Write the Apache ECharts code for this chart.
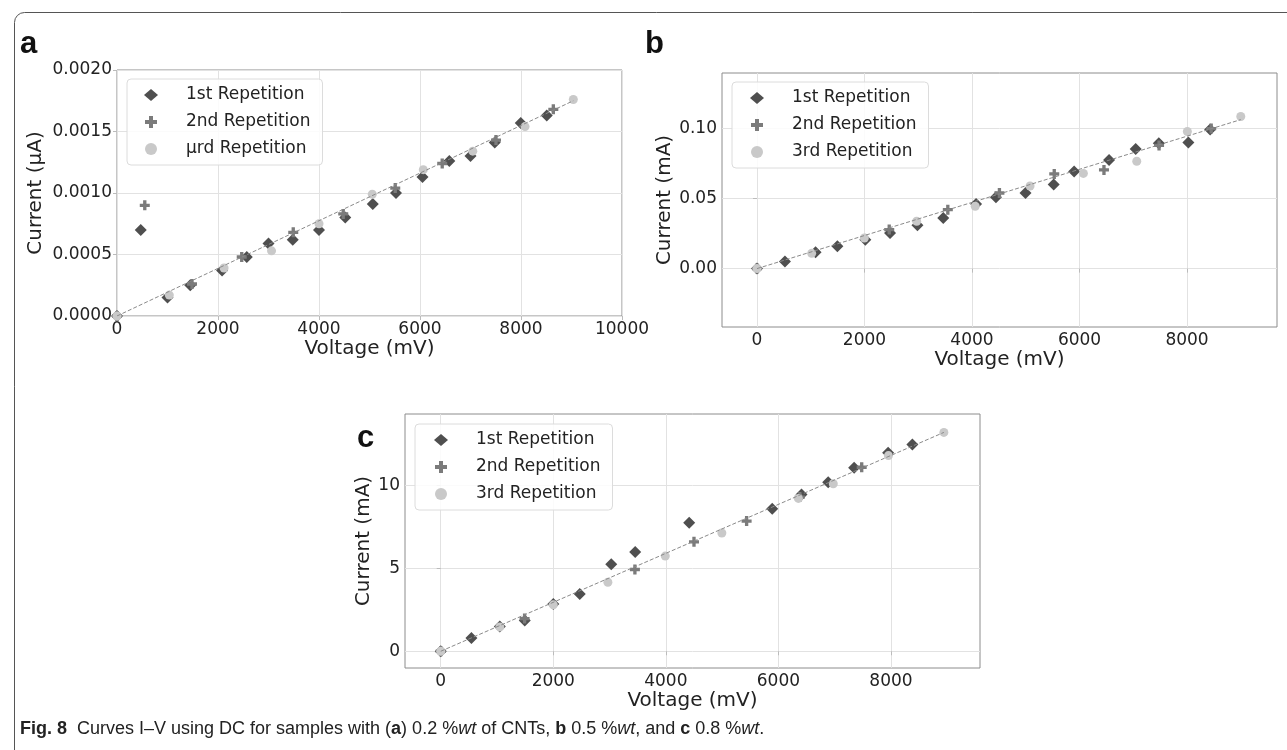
<!DOCTYPE html>
<html>
<head>
<meta charset="utf-8">
<script src="https://cdn.jsdelivr.net/npm/echarts@6/dist/echarts.min.js"></script>
<style>
  html, body { margin: 0; padding: 0; background: #fff; }
  #main { width: 1287px; height: 750px; }
</style>
</head>
<body>
<div id="main"></div>
<script>
// panel a: 0.2 %wt
const a1 = [[0,0],[470,0.0007],[1000,0.00015],[1450,0.00025],[2080,0.00037],[2570,0.00048],[3000,0.00059],[3480,0.00062],[4000,0.0007],[4520,0.0008],[5065,0.00091],[5525,0.001],[6050,0.00113],[6580,0.00126],[7000,0.0013],[7480,0.00141],[7995,0.00157],[8510,0.00163]];
const a2 = [[0,0],[550,0.0009],[1485,0.00026],[2470,0.00048],[3490,0.00068],[4480,0.00083],[5510,0.00104],[6440,0.00124],[7505,0.00143],[8640,0.00168]];
const a3 = [[0,0],[1036,0.00017],[2120,0.00039],[3060,0.00053],[4000,0.00075],[5055,0.00099],[6065,0.00119],[7045,0.00134],[8080,0.00154],[9036,0.00176]];
const fitA = [[0,0],[9036,0.00175]];

// panel b: 0.5 %wt
const b1 = [[0,0],[520,0.005],[1090,0.0117],[1495,0.016],[2015,0.0207],[2475,0.0255],[2985,0.031],[3465,0.0362],[4075,0.0462],[4445,0.0509],[4995,0.054],[5520,0.06],[5900,0.0693],[6550,0.0776],[7045,0.0855],[7475,0.0895],[8025,0.09],[8430,0.0993]];
const b2 = [[0,0],[2460,0.0279],[3550,0.0421],[4510,0.054],[5530,0.0676],[6455,0.0705],[7480,0.088],[8450,0.1]];
const b3 = [[0,0],[1017,0.0109],[1997,0.0219],[2971,0.0338],[4060,0.0445],[5080,0.059],[6072,0.068],[7065,0.0767],[8006,0.0979],[9000,0.1086]];
const fitB = [[0,0],[9000,0.1064]];

// panel c: 0.8 %wt
const c1 = [[0,0],[545,0.8],[1050,1.5],[1493,1.85],[2000,2.85],[2470,3.45],[3030,5.25],[3455,5.98],[4415,7.75],[5890,8.6],[6410,9.45],[6885,10.2],[7345,11.07],[7950,11.97],[8380,12.47]];
const c2 = [[0,0],[1490,1.97],[3450,4.93],[4500,6.6],[5435,7.85],[6380,9.3],[7480,11.1]];
const c3 = [[0,0],[1050,1.47],[2000,2.8],[2970,4.16],[3990,5.74],[4995,7.13],[6355,9.22],[6975,10.1],[7955,11.8],[8940,13.2]];
const fitC = [[0,0],[8940,13.2]];

const namesA = ['1st Repetition', '2nd Repetition', 'μrd Repetition'];
const namesBC = ['1st Repetition', '2nd Repetition', '3rd Repetition'];
const xTicks = [0, 2000, 4000, 6000, 8000];
const yTicksB = [0, 0.05, 0.10];
const yTicksC = [0, 5, 10];

const FONT = 'DejaVu Sans, Liberation Sans, sans-serif';
const CAP_FONT = 'Liberation Sans, Arial, sans-serif';
const PLUS = 'path://M1,0H2V1H3V2H2V3H1V2H0V1H1Z';
const C1 = '#4f4f4f', C2 = '#7b7b7b', C3 = '#c9c9c9';

const myChart = echarts.init(document.getElementById('main'));

function xAxis(idx, min, max, ticks) {
    const ax = {
        type: 'value', gridIndex: idx, min: min, max: max,
        name: 'Voltage (mV)', nameLocation: 'middle', nameGap: 20,
        nameTextStyle: { fontFamily: FONT, fontSize: 20, color: '#222' },
        axisLine: { show: false },
        axisTick: { show: true, length: 4, lineStyle: { color: '#bbb' } },
        axisLabel: { fontFamily: FONT, fontSize: 17, color: '#222', margin: 5,
            formatter: v => String(v) },
        splitLine: { show: true, lineStyle: { color: '#e2e2e2', width: 1 } }
    };
    if (ticks) {
        ax.axisTick.customValues = ticks;
        ax.axisLabel.customValues = ticks;
    } else {
        ax.interval = 2000;
    }
    return ax;
}

function yAxis(idx, min, max, ticks, name, gap, digits) {
    const ax = {
        type: 'value', gridIndex: idx, min: min, max: max,
        name: name, nameLocation: 'middle', nameGap: gap,
        nameTextStyle: { fontFamily: FONT, fontSize: 20, color: '#222' },
        axisLine: { show: false },
        axisTick: { show: true, length: 4, lineStyle: { color: '#bbb' } },
        axisLabel: { fontFamily: FONT, fontSize: 17, color: '#222', margin: 5,
            formatter: v => v.toFixed(digits) },
        splitLine: { show: true, lineStyle: { color: '#e2e2e2', width: 1 } }
    };
    if (ticks) {
        ax.axisTick.customValues = ticks;
        ax.axisLabel.customValues = ticks;
    } else {
        ax.interval = 0.0005;
    }
    return ax;
}

function scatter(name, idx, data, color, symbol, size, z) {
    return {
        type: 'scatter', name: name, xAxisIndex: idx, yAxisIndex: idx,
        data: data, symbol: symbol, symbolSize: size, z: z,
        itemStyle: { color: color, opacity: 1 },
        emphasis: { disabled: true }
    };
}

function fit(idx, data) {
    return {
        type: 'line', xAxisIndex: idx, yAxisIndex: idx, data: data,
        showSymbol: false, z: 10, silent: true,
        lineStyle: { color: '#8a8a8a', width: 1, type: [4, 2] }
    };
}

function legend(left, top, names, padLeft) {
    return {
        left: left, top: top, orient: 'vertical', selectedMode: false,
        data: [
            { name: names[0], icon: 'diamond' },
            { name: names[1], icon: PLUS },
            { name: names[2], icon: 'circle' }
        ],
        itemWidth: 14, itemHeight: 12, itemGap: 7,
        padding: [6, 12, 6, padLeft],
        backgroundColor: 'rgba(255,255,255,0.85)',
        borderColor: '#dcdcdc', borderWidth: 1, borderRadius: 4,
        textStyle: { fontFamily: FONT, fontSize: 17, color: '#222', lineHeight: 20, padding: [0, 0, 0, 23] }
    };
}

function panelSeries(idx, names, s1, s2, s3, f) {
    return [
        scatter(names[0], idx, s1, C1, 'diamond', 12, 3),
        scatter(names[1], idx, s2, C2, PLUS, 10, 4),
        scatter(names[2], idx, s3, C3, 'circle', 9, 5),
        fit(idx, f)
    ];
}

const gridStyle = { show: true, borderColor: '#8c8c8c', borderWidth: 1, backgroundColor: '#fff', containLabel: false };

const option = {
    backgroundColor: '#fff',
    animation: false,
    grid: [
        Object.assign({ left: 117, top: 70, width: 505, height: 246 }, gridStyle),
        Object.assign({ left: 722, top: 73, width: 555, height: 254 }, gridStyle),
        Object.assign({ left: 405, top: 414, width: 575, height: 254 }, gridStyle)
    ],
    xAxis: [
        xAxis(0, 0, 10000, null),
        xAxis(1, -651, 9674, xTicks),
        xAxis(2, -635, 9582, xTicks)
    ],
    yAxis: [
        yAxis(0, 0, 0.002, null, 'Current (μA)', 71, 4),
        yAxis(1, -0.0417, 0.1397, yTicksB, 'Current (mA)', 45, 2),
        yAxis(2, -1.01, 14.31, yTicksC, 'Current (mA)', 31, 0)
    ],
    legend: [
        legend(127, 79, namesA, 17),
        legend(732, 82, namesBC, 18),
        legend(415, 424, namesBC, 19)
    ],
    series: [].concat(
        panelSeries(0, namesA, a1, a2, a3, fitA),
        panelSeries(1, namesBC, b1, b2, b3, fitB),
        panelSeries(2, namesBC, c1, c2, c3, fitC)
    ),
    graphic: [
        { type: 'rect', left: 12, top: 10, z: -10, silent: true,
          shape: { width: 1300, height: 760, r: [10, 0, 0, 0] },
          style: { fill: 'none', stroke: '#555', lineWidth: 1 } },
        { type: 'text', left: 20, top: 29, style: { text: 'a', font: 'bold 31px ' + CAP_FONT, fill: '#111' } },
        { type: 'text', left: 645, top: 29, style: { text: 'b', font: 'bold 31px ' + CAP_FONT, fill: '#111' } },
        { type: 'text', left: 357, top: 423, style: { text: 'c', font: 'bold 31px ' + CAP_FONT, fill: '#111' } },
        { type: 'text', left: 20, top: 720, style: {
            text: '{b|Fig. 8}  Curves I–V using DC for samples with ({b|a}) 0.2 %{i|wt} of CNTs, {b|b} 0.5 %{i|wt}, and {b|c} 0.8 %{i|wt}.',
            fontFamily: CAP_FONT, fontSize: 18, fill: '#222',
            rich: {
                b: { fontFamily: CAP_FONT, fontSize: 18, fontWeight: 'bold', fill: '#222' },
                i: { fontFamily: CAP_FONT, fontSize: 18, fontStyle: 'italic', fill: '#222' }
            }
        } }
    ]
};

myChart.setOption(option);
window.addEventListener('resize', () => myChart.resize());
</script>
</body>
</html>
